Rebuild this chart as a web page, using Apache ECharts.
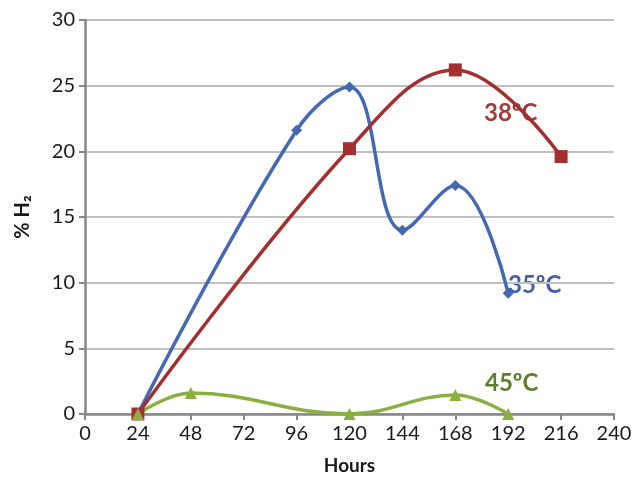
<!DOCTYPE html>
<html><head><meta charset="utf-8">
<script src="https://cdn.jsdelivr.net/npm/echarts@6/dist/echarts.min.js"></script>
<style>html,body{margin:0;padding:0;background:#fff}#c{width:635px;height:481px}</style>
</head><body><div id="c"></div>
<script>
const xTicks = [0, 24, 48, 72, 96, 120, 144, 168, 192, 216, 240];
const hours35 = [24, 96, 120, 144, 168, 192];
const vals35 = [0, 21.6, 24.9, 14.0, 17.4, 9.2];
const hours38 = [24, 120, 168, 216];
const vals38 = [0, 20.2, 26.2, 19.6];
const hours45 = [24, 48, 120, 168, 192];
const vals45 = [0, 1.6, 0, 1.45, 0];
const seriesNames = ['35ºC', '38ºC', '45ºC'];

const pair = (xs, ys) => xs.map((x, i) => [x, ys[i]]);
const font = 'Lato, "Open Sans", sans-serif';
const chart = echarts.init(document.getElementById('c'));
chart.setOption({
  animation: false,
  grid: {left: 85, right: 21, top: 20, bottom: 67},
  xAxis: {
    type: 'value', min: 0, max: 240, interval: 24,
    name: 'Hours', nameLocation: 'middle', nameGap: 42,
    nameTextStyle: {fontFamily: font, fontWeight: 'bold', fontSize: 19, color: '#1a1a1a'},
    axisLine: {lineStyle: {color: '#868686', width: 2.5}},
    axisTick: {show: true, length: 6, lineStyle: {color: '#868686', width: 2}},
    axisLabel: {fontFamily: font, fontSize: 20, color: '#1a1a1a', margin: 10},
    splitLine: {show: false}
  },
  yAxis: {
    type: 'value', min: 0, max: 30, interval: 5,
    name: '% H₂', nameLocation: 'middle', nameGap: 52,
    nameTextStyle: {fontFamily: font, fontWeight: 'bold', fontSize: 20, color: '#1a1a1a'},
    axisLine: {show: true, lineStyle: {color: '#868686', width: 2.5}},
    axisTick: {show: true, length: 6, lineStyle: {color: '#868686', width: 2}},
    axisLabel: {fontFamily: font, fontSize: 20, color: '#1a1a1a', margin: 10},
    splitLine: {lineStyle: {color: '#c0c0c0', width: 2}}
  },
  series: [
    {name: seriesNames[0], type: 'line', data: pair(hours35, vals35), smooth: 0.4,
     symbol: 'diamond', symbolSize: 11, lineStyle: {color: '#4468B2', width: 3.5},
     itemStyle: {color: '#4468B2'}},
    {name: seriesNames[1], type: 'line', data: pair(hours38, vals38), smooth: 0.4,
     symbol: 'rect', symbolSize: 13, lineStyle: {color: '#A3302E', width: 3.5},
     itemStyle: {color: '#A3302E'}},
    {name: seriesNames[2], type: 'line', data: pair(hours45, vals45), smooth: 0.4,
     symbol: 'triangle', symbolSize: 12, lineStyle: {color: '#88B040', width: 3.5},
     itemStyle: {color: '#88B040'}}
  ],
  graphic: [
    {type: 'text', left: 484, top: 101, style: {text: seriesNames[1], fontFamily: font, fontWeight: 'bold', fontSize: 24, fill: '#A23B3A'}},
    {type: 'text', left: 508, top: 273, style: {text: seriesNames[0], fontFamily: font, fontWeight: 'bold', fontSize: 24, fill: '#4262AA'}},
    {type: 'text', left: 485, top: 371, style: {text: seriesNames[2], fontFamily: font, fontWeight: 'bold', fontSize: 24, fill: '#5E7F2A'}}
  ]
});
</script></body></html>
